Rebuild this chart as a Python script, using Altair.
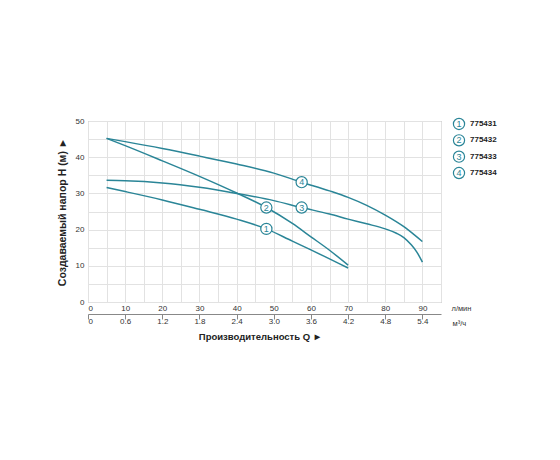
import altair as alt
import pandas as pd

TEAL = "#2a8597"
GRID = "#e2e2e2"
BORDER = "#9a9a9a"
FONT = "Liberation Sans"

models = ["775431", "775432", "775433", "775434"]
nums = ["1", "2", "3", "4"]

q1 = [5, 10, 20, 30, 40, 48, 55, 60, 65, 70]
h1 = [31.6, 30.5, 28.2, 25.6, 22.9, 20.2, 16.8, 14.4, 11.9, 9.4]
q2 = [5, 10, 20, 30, 40, 48, 55, 60, 65, 70]
h2 = [45.2, 43.2, 39.0, 34.7, 30.1, 26.1, 21.7, 18.0, 14.3, 10.2]
q3 = [5, 10, 20, 30, 40, 50, 57.5, 65, 70, 75, 80, 83, 85, 87, 88.5, 90]
h3 = [33.6, 33.5, 32.9, 31.7, 30.0, 28.0, 26.1, 24.3, 22.9, 21.6, 20.2, 19.0, 17.8, 15.8, 13.8, 11.0]
q4 = [5, 10, 20, 30, 40, 50, 57.5, 65, 70, 75, 80, 85, 88, 90]
h4 = [45.2, 44.3, 42.4, 40.3, 38.1, 35.6, 33.1, 30.7, 28.9, 26.7, 24.0, 20.8, 18.4, 16.7]

label_q = [48, 48, 57.5, 57.5]
label_h = [20.2, 26.1, 26.1, 33.1]

lpm_ticks = list(range(0, 100, 5))
head_ticks = list(range(0, 55, 5))
m3h_ticks = [0, 0.6, 1.2, 1.8, 2.4, 3.0, 3.6, 4.2, 4.8, 5.4]

rows = []
for m, qs, hs in zip(models, [q1, q2, q3, q4], [h1, h2, h3, h4]):
    for q, h in zip(qs, hs):
        rows.append({"model": m, "q": q, "h": h})
curves = pd.DataFrame(rows)
labels = pd.DataFrame({"model": models, "num": nums, "q": label_q, "h": label_h})
m3h = pd.DataFrame({"m3": m3h_ticks})
legend_df = pd.DataFrame({"model": models, "num": nums})

W, H = 353, 181
xs = alt.Scale(domain=[0, 95], nice=False, zero=False)
ys = alt.Scale(domain=[0, 50], nice=False)

x_axis = alt.Axis(
    values=lpm_ticks,
    labelExpr="datum.value % 10 === 0 ? datum.label : ''",
    grid=True, gridColor=GRID, ticks=False, domain=False,
    labelPadding=2, labelFontSize=8, labelColor="#333", labelFont=FONT,
    title="л/мин", titleX=W + 10, titleY=6, titleAlign="left", titleBaseline="middle",
    titleFontWeight="normal", titleFontSize=7.5, titleColor="#333", titleFont=FONT,
)
y_axis = alt.Axis(
    values=head_ticks,
    labelExpr="datum.value % 10 === 0 ? datum.label : ''",
    grid=True, gridColor=GRID, ticks=False, domain=False,
    labelPadding=4, labelFontSize=8, labelColor="#333", labelFont=FONT,
    title="Создаваемый напор H (м) ►", titleFontSize=10.5, titleFontWeight="bold",
    titlePadding=8, titleColor="#222", titleFont=FONT,
)
x2_axis = alt.Axis(
    values=m3h_ticks, orient="bottom", offset=12,
    labelExpr="datum.value == 0 ? '0' : format(datum.value, '.1f')",
    grid=False, ticks=True, tickSize=5, tickColor="#888", domain=True, domainColor="#888",
    labelPadding=-2, labelFontSize=8, labelColor="#333", labelFont=FONT,
    title="м³/ч", titleX=W + 11, titleY=9, titleAlign="left", titleBaseline="middle",
    titleFontWeight="normal", titleFontSize=7.5, titleColor="#333", titleFont=FONT,
)

X = alt.X("q:Q", scale=xs, axis=x_axis)
Y = alt.Y("h:Q", scale=ys, axis=y_axis)

lines = alt.Chart(curves).mark_line(color=TEAL, strokeWidth=1.5, interpolate="monotone").encode(
    x=X, y=Y, detail="model:N",
)
circles = alt.Chart(labels).mark_circle(color="white", stroke=TEAL, strokeWidth=1.2, size=125, opacity=1).encode(
    x=X, y=Y
)
circle_txt = alt.Chart(labels).mark_text(color=TEAL, fontSize=9, font=FONT, baseline="middle").encode(
    x=X, y=Y, text="num:N"
)
second_axis = alt.Chart(m3h).mark_point(opacity=0).encode(
    x=alt.X("m3:Q", scale=alt.Scale(domain=[0, 5.7], nice=False), axis=x2_axis),
    y=alt.value(0),
)

plot = alt.layer(lines, circles, circle_txt)
main = alt.layer(plot, second_axis).resolve_scale(x="independent").properties(
    width=W, height=H,
    title=alt.TitleParams("Производительность Q ►", orient="bottom", fontSize=9.5, fontWeight="bold",
                          frame="group", offset=5, font=FONT, color="#222", dx=-4),
    view=alt.ViewBackground(stroke=BORDER),
)

ly = alt.Y("model:N", axis=None, scale=alt.Scale(padding=0.18), sort=models)
leg = alt.layer(
    alt.Chart(legend_df).mark_circle(color="white", stroke=TEAL, strokeWidth=1.2, size=125, opacity=1).encode(
        x=alt.value(6), y=ly),
    alt.Chart(legend_df).mark_text(color=TEAL, fontSize=9, font=FONT, baseline="middle").encode(
        x=alt.value(6), y=ly, text="num:N"),
    alt.Chart(legend_df).mark_text(color="#222", fontSize=8, fontWeight="bold", font=FONT,
                                   align="left", baseline="middle").encode(
        x=alt.value(17), y=ly, text="model:N"),
).properties(width=60, height=55, view=alt.ViewBackground(stroke="transparent"))

chart = alt.hconcat(main, leg, spacing=12, bounds="flush").properties(
    padding={"left": 48, "top": 107, "right": 5, "bottom": 5}
).configure(font=FONT, background="white")

chart.save("out.html", embed_options={"renderer": "svg", "actions": False})
